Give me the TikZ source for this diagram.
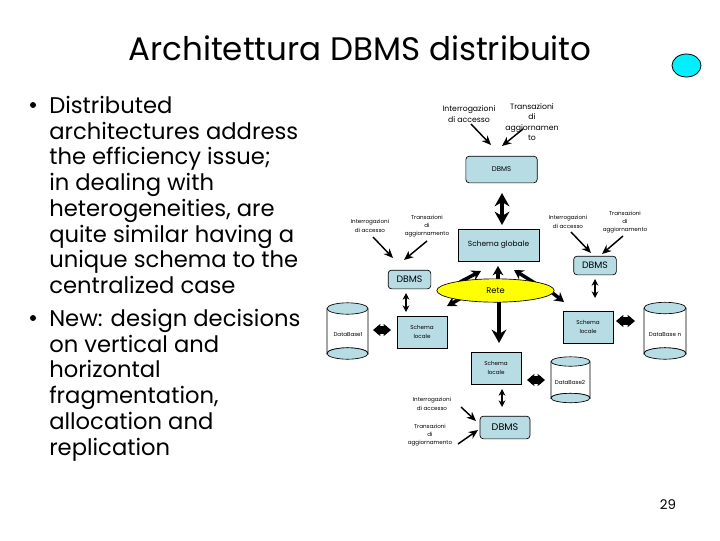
\documentclass[tikz,border=0pt]{standalone}
\usepackage{fontspec}
\setmainfont{Poppins}
\usetikzlibrary{arrows.meta,shapes.geometric}
\definecolor{boxfill}{HTML}{B8DCE4}
\definecolor{netfill}{HTML}{FFFF00}
\definecolor{dotfill}{HTML}{00F0FF}
\tikzset{
 x=0.75pt,y=-0.75pt,
 dbms/.style={draw=black,fill=boxfill,rounded corners=2.5pt,line width=0.5pt,inner sep=0pt,align=center},
 schemabox/.style={draw=black,fill=boxfill,line width=0.5pt,inner sep=0pt,align=center,minimum width=37.5pt,minimum height=24pt,font=\fontsize{4.2}{6.9}\selectfont},
 lab/.style={inner sep=0pt,align=center,font=\fontsize{4.2}{6.2}\selectfont},
 labbig/.style={inner sep=0pt,align=center,font=\fontsize{5.8}{7.8}\selectfont},
 thinarrow/.style={-{Stealth[length=7pt,width=6pt]},line width=1.1pt},
 dbl/.style={{Stealth[length=5pt,width=5pt]}-{Stealth[length=5pt,width=5pt]},line width=1pt},
 fat/.style={-{Stealth[length=10pt,width=11pt]},line width=3pt},
 fatdbl/.style={{Stealth[length=10pt,width=11pt]}-{Stealth[length=10pt,width=11pt]},line width=3pt},
 stub/.style={{Stealth[length=5.5pt,width=9pt,inset=0.5pt]}-{Stealth[length=5.5pt,width=9pt,inset=0.5pt]},line width=4.5pt},
 stubcore/.style={line width=6.5pt,shorten >=3pt,shorten <=3pt},
 fathead/.style={-{Stealth[length=7pt,width=8pt]},line width=2.6pt},
}
\newcommand{\dbcyl}[6]{% name, cx, top y, bottom y, half width, y radius
 \coordinate (#1) at (#2,{(#3+#4)/2});
 \draw[line width=0.5pt,fill=white] ({#2-#5},#3) -- ({#2-#5},#4) arc[x radius=#5,y radius=#6,start angle=180,end angle=360] -- ({#2+#5},#3);
 \draw[line width=0.5pt,fill=boxfill] (#2,#3) ellipse[x radius=#5,y radius=#6];
 \draw[line width=0.5pt,fill=boxfill] ({#2-#5},#4) arc[x radius=#5,y radius=#6,start angle=180,end angle=360] arc[x radius=#5,y radius=#6,start angle=0,end angle=180];
}
\begin{document}
\begin{tikzpicture}
\useasboundingbox (0,0) rectangle (720,540);
\fill[white] (0,0) rectangle (720,540);
% title and bullets
\node[inner sep=0pt,font=\fontsize{24.4}{27}\selectfont] (title) at (360,48) {Architettura DBMS distribuito};
\node[inner sep=0pt,anchor=north west,font=\fontsize{17}{19.3}\selectfont,align=left] (body1) at (49,96)
 {Distributed\\architectures address\\the efficiency issue;\\in dealing with\\heterogeneities, are\\quite similar having a\\unique schema to the\\centralized case};
\node[inner sep=0pt,anchor=north west,font=\fontsize{17}{19.3}\selectfont,align=left] (body2) at (49,309)
 {New: design decisions\\on vertical and\\horizontal\\fragmentation,\\allocation and\\replication};
\fill (33,105) circle[radius=3];
\fill (33,318) circle[radius=3];
\node[inner sep=0pt,font=\fontsize{10}{12}\selectfont] (page) at (668,505) {29};
\draw[line width=0.6pt,fill=dotfill] (686.5,65.5) ellipse[x radius=14.5,y radius=11.5];
% top group
\node[dbms,minimum width=53.5pt,minimum height=20pt,font=\fontsize{5.2}{6}\selectfont] (dbmstop) at (501.5,169.5) {DBMS};
\node[labbig] (qtop) at (469,114) {Interrogazioni\\di accesso};
\node[labbig] (ttop) at (532,122) {Transazioni\\di\\aggiornamen\\to};
\coordinate (qtopend) at (491,145);
\coordinate (ttopend) at (502,146);
\coordinate (qtopst) at (471,124);
\coordinate (ttopst) at (523,129);
\draw[thinarrow] (qtopst) -- (qtopend);
\draw[thinarrow] (ttopst) -- (ttopend);
% global schema
\node[schemabox,minimum width=61pt,font=\fontsize{5.6}{8}\selectfont] (global) at (498.5,245) {Schema globale};
\coordinate (dbl1) at (502,193);
\coordinate (dbl2) at (502,225);
\draw[fatdbl] (dbl1) -- (dbl2);
% stubs round the net
\coordinate (nu1) at (481,271);
\coordinate (nu1b) at (460,282);
\coordinate (nl1) at (447,306);
\coordinate (nl1b) at (465,296);
\coordinate (nu2) at (498,266);
\coordinate (nu2b) at (498,285);
\coordinate (nr1) at (514,270);
\coordinate (nr1b) at (538,285);
\coordinate (nr2) at (564,302);
\coordinate (nr2b) at (545,287);
\draw[fathead] (nu1b) -- (nu1);
\draw[fathead] (nl1b) -- (nl1);
\draw[fathead] (nu2b) -- (nu2);
\draw[fathead] (nr1b) -- (nr1);
\draw[fathead] (nr2b) -- (nr2);
% net
\node[ellipse,draw=black,fill=netfill,line width=0.5pt,minimum width=88pt,minimum height=17.5pt,inner sep=0pt,font=\fontsize{6.2}{8}\selectfont] (rete) at (495.5,290.5) {Rete};
% left group
\node[dbms,minimum width=32pt,minimum height=14pt,font=\fontsize{7}{8}\selectfont] (dbmsL) at (409.5,279.5) {DBMS};
\node[lab] (qL) at (370,226) {Interrogazioni\\di accesso};
\node[lab] (tL) at (427,226) {Transazioni\\di\\aggiornamento};
\coordinate (qLs) at (373,237);
\coordinate (qLe) at (393,258);
\coordinate (tLs) at (427,241);
\coordinate (tLe) at (404,260);
\draw[thinarrow] (qLs) -- (qLe);
\draw[thinarrow] (tLs) -- (tLe);
\node[schemabox] (schL) at (422,332) {Schema\\locale};
\coordinate (dL1) at (406,293);
\coordinate (dL2) at (406,312);
\draw[dbl] (dL1) -- (dL2);
\dbcyl{dbA}{347.5}{308.5}{353.5}{20.5}{5.7}
\node[lab] (dbAl) at (348,334) {DataBase1};
\coordinate (sL1) at (373,330);
\coordinate (sL2) at (391,330);
\draw[stubcore] (sL1) -- (sL2);
\draw[stub] (sL1) -- (sL2);
% right group
\node[dbms,minimum width=32pt,minimum height=14pt,font=\fontsize{7}{8}\selectfont] (dbmsR) at (595,265.5) {DBMS};
\node[lab] (qR) at (568,222) {Interrogazioni\\di accesso};
\node[lab] (tR) at (625,222) {Transazioni\\di\\aggiornamento};
\coordinate (qRs) at (571,232);
\coordinate (qRe) at (591,253);
\coordinate (tRs) at (623,236);
\coordinate (tRe) at (602,254);
\draw[thinarrow] (qRs) -- (qRe);
\draw[thinarrow] (tRs) -- (tRe);
\node[schemabox] (schR) at (588,327) {Schema\\locale};
\coordinate (dR1) at (595,279);
\coordinate (dR2) at (595,298);
\draw[dbl] (dR1) -- (dR2);
\dbcyl{dbN}{665}{308}{353.5}{21}{5.7}
\node[lab] (dbNl) at (665,335) {DataBase n};
\coordinate (sR1) at (616,321);
\coordinate (sR2) at (635,321);
\draw[stubcore] (sR1) -- (sR2);
\draw[stub] (sR1) -- (sR2);
% bottom group
\node[schemabox] (schB) at (496,368) {Schema\\locale};
\coordinate (fat1) at (499,302);
\coordinate (fat2) at (499,343);
\draw[fat] (fat1) -- (fat2);
\node[dbms,minimum width=37.5pt,minimum height=17pt,font=\fontsize{7.2}{8}\selectfont] (dbmsB) at (505,427.5) {DBMS};
\coordinate (dB1) at (502,389);
\coordinate (dB2) at (502,407);
\draw[dbl] (dB1) -- (dB2);
\node[lab] (qB) at (432,404) {Interrogazioni\\di accesso};
\node[lab] (tB) at (430,435) {Transazioni\\di\\aggiornamento};
\coordinate (qBs) at (461,407);
\coordinate (qBe) at (476,421);
\coordinate (tBs) at (458,444);
\coordinate (tBe) at (478,430);
\draw[thinarrow] (qBs) -- (qBe);
\draw[thinarrow] (tBs) -- (tBe);
\dbcyl{dbB}{570.5}{361.5}{398}{19.5}{4.7}
\node[lab] (dbBl) at (570,382) {DataBase2};
\coordinate (sB1) at (527,380);
\coordinate (sB2) at (545,380);
\draw[stubcore] (sB1) -- (sB2);
\draw[stub] (sB1) -- (sB2);
\end{tikzpicture}
\end{document}
